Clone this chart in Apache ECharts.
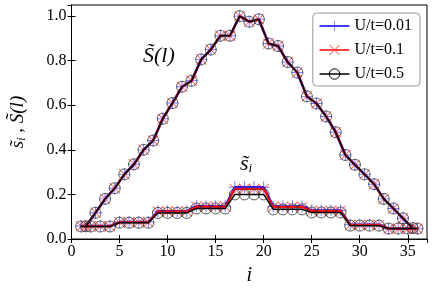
<!DOCTYPE html>
<html>
<head>
<meta charset="utf-8">
<script src="https://cdn.jsdelivr.net/npm/echarts@6/dist/echarts.min.js"></script>
<style>
html,body{margin:0;padding:0;background:#fff;}
#c{width:436px;height:291px;}
</style>
</head>
<body>
<div id="c"></div>
<script>
// site index i (lower curves s_i) and bond position l (upper curves S(l))
const siteIndex = [1,2,3,4,5,6,7,8,9,10,11,12,13,14,15,16,17,18,19,20,21,22,23,24,25,26,27,28,29,30,31,32,33,34,35,36];
const bondIndex = [1.5,2.5,3.5,4.5,5.5,6.5,7.5,8.5,9.5,10.5,11.5,12.5,13.5,14.5,15.5,16.5,17.5,18.5,19.5,20.5,21.5,22.5,23.5,24.5,25.5,26.5,27.5,28.5,29.5,30.5,31.5,32.5,33.5,34.5,35.5];

const seriesNames = ['U/t=0.01', 'U/t=0.1', 'U/t=0.5'];

// s_i values
const sBlue  = [0.058,0.058,0.058,0.058, 0.076,0.076,0.076,0.076, 0.125,0.125,0.125,0.125, 0.147,0.147,0.147,0.147, 0.232,0.232,0.232,0.232, 0.146,0.146,0.146,0.146, 0.128,0.128,0.128,0.128, 0.064,0.064,0.064,0.064, 0.046,0.046,0.046,0.046];
const sRed   = [0.057,0.057,0.057,0.057, 0.075,0.075,0.075,0.075, 0.123,0.123,0.123,0.123, 0.145,0.145,0.145,0.145, 0.224,0.224,0.224,0.224, 0.144,0.144,0.144,0.144, 0.126,0.126,0.126,0.126, 0.063,0.063,0.063,0.063, 0.046,0.046,0.046,0.046];
const sBlack = [0.056,0.056,0.056,0.056, 0.073,0.073,0.073,0.073, 0.117,0.117,0.117,0.117, 0.137,0.137,0.137,0.137, 0.200,0.200,0.200,0.200, 0.133,0.133,0.133,0.133, 0.119,0.119,0.119,0.119, 0.060,0.060,0.060,0.060, 0.047,0.047,0.047,0.047];

// S(l) values
const SBlue  = [0.057,0.118,0.180,0.228,0.290,0.335,0.400,0.442,0.540,0.610,0.683,0.710,0.806,0.850,0.912,0.912,1.000,0.975,0.986,0.877,0.866,0.794,0.747,0.640,0.608,0.550,0.479,0.377,0.333,0.290,0.246,0.180,0.137,0.093,0.049];
const SRed   = [0.057,0.118,0.180,0.228,0.290,0.335,0.400,0.442,0.540,0.610,0.683,0.710,0.806,0.850,0.912,0.912,1.000,0.975,0.986,0.877,0.866,0.794,0.747,0.640,0.608,0.550,0.479,0.377,0.333,0.290,0.246,0.180,0.137,0.093,0.049];
const SBlack = [0.057,0.118,0.180,0.228,0.290,0.335,0.400,0.442,0.540,0.610,0.683,0.710,0.806,0.850,0.912,0.912,1.000,0.975,0.986,0.877,0.866,0.794,0.747,0.640,0.608,0.550,0.479,0.377,0.333,0.290,0.246,0.180,0.137,0.093,0.049];

const xTicks = [0,5,10,15,20,25,30,35];
const yTicks = [0.0,0.2,0.4,0.6,0.8,1.0];

const FONT = 'Liberation Serif';
const PLUS = 'path://M4.6,0 H5.4 V4.6 H10 V5.4 H5.4 V10 H4.6 V5.4 H0 V4.6 H4.6 Z';
const CROSS = 'path://M0,0.6 L0.6,0 L5,4.4 L9.4,0 L10,0.6 L5.6,5 L10,9.4 L9.4,10 L5,5.6 L0.6,10 L0,9.4 L4.4,5 Z';

function pairs(xs, ys){ return xs.map((x,k)=>[x, ys[k]]); }

const styles = [
  {name: seriesNames[0], color:'#0000ff', lw:2.5, symbol: PLUS, size: 12, item:{color:'rgba(60,60,255,0.7)'}},
  {name: seriesNames[1], color:'#ff0000', lw:2, symbol: CROSS, size: 11, item:{color:'rgba(255,40,40,0.7)'}},
  {name: seriesNames[2], color:'#000000', lw:1.5, symbol: 'circle', size: 11, item:{color:'rgba(0,0,0,0)', borderColor:'#333', borderWidth:0.8}}
];
const lowerData = [sBlue, sRed, sBlack];
const upperData = [SBlue, SRed, SBlack];

const series = [];
styles.forEach((st, k) => {
  [pairs(bondIndex, upperData[k]), pairs(siteIndex, lowerData[k])].forEach(d => {
    series.push({
      type:'line', name: st.name, data: d,
      symbol: st.symbol, symbolSize: st.size, showAllSymbol: true,
      lineStyle:{color: st.color, width: st.lw},
      itemStyle: st.item,
      emphasis:{disabled:true},
      z: 2 + k
    });
  });
});

const isTick = (v, arr) => arr.some(t => Math.abs(t - v) < 1e-6);

const chart = echarts.init(document.getElementById('c'), null, {renderer:'canvas'});
chart.setOption({
  animation:false,
  backgroundColor:'#fff',
  grid:{left:65, right:9, top:5, bottom:44, show:true, borderColor:'#000', borderWidth:1, backgroundColor:'transparent'},
  legend:{
    data: [
      {name: seriesNames[0]},
      {name: seriesNames[1]},
      {name: seriesNames[2], itemStyle:{color:'rgba(0,0,0,0)', borderColor:'#000', borderWidth:1}}
    ],
    orient:'vertical', right:16, top:13,
    backgroundColor:'#fff', borderColor:'#999', borderWidth:1, borderRadius:4,
    padding:[5,8,4,6], itemWidth:30, itemHeight:13, itemGap:8,
    lineStyle:{width:1.5},
    textStyle:{fontFamily:FONT, fontSize:16, color:'#000'}
  },
  xAxis:[
    {type:'value', min:0, max:37, interval:5, position:'bottom',
     name:'i', nameLocation:'middle', nameGap:27,
     nameTextStyle:{fontFamily:FONT, fontStyle:'italic', fontSize:20, color:'#000'},
     axisLine:{show:true, lineStyle:{color:'#000', width:1}},
     axisTick:{show:true, inside:true, length:4, lineStyle:{color:'#000'}},
     axisLabel:{fontFamily:FONT, fontSize:16, color:'#000', margin:5, showMaxLabel:false,
       formatter: v => isTick(v, xTicks) ? String(v) : ''},
     splitLine:{show:false}},
    {type:'value', min:0, max:37, interval:5, position:'top',
     axisLine:{show:true, lineStyle:{color:'#000', width:1}},
     axisTick:{show:true, inside:true, length:4, lineStyle:{color:'#000'}},
     axisLabel:{show:false}, splitLine:{show:false}}
  ],
  yAxis:[
    {type:'value', min:0, max:1.05, interval:0.2, position:'left',
     name:'{s|s̃}{sub|i}{n| , }{s|S̃(l)}', nameLocation:'middle', nameGap:44, nameRotate:90,
     nameTextStyle:{fontFamily:FONT, color:'#000', rich:{
       s:{fontFamily:FONT, fontStyle:'italic', fontSize:19, color:'#000'},
       sub:{fontFamily:FONT, fontStyle:'italic', fontSize:12, color:'#000', padding:[8,0,0,0]},
       n:{fontFamily:FONT, fontSize:19, color:'#000'}
     }},
     axisLine:{show:true, lineStyle:{color:'#000', width:1}},
     axisTick:{show:true, inside:true, length:4, lineStyle:{color:'#000'}},
     axisLabel:{fontFamily:FONT, fontSize:16, color:'#000', margin:5, showMaxLabel:false,
       formatter: v => isTick(v, yTicks) ? v.toFixed(1) : ''},
     splitLine:{show:false}},
    {type:'value', min:0, max:1.05, interval:0.2, position:'right',
     axisLine:{show:true, lineStyle:{color:'#000', width:1}},
     axisTick:{show:true, inside:true, length:4, lineStyle:{color:'#000'}},
     axisLabel:{show:false}, splitLine:{show:false}}
  ],
  graphic:[
    {type:'text', left:143, top:45, z:10, style:{
      text:'{s|S̃(l)}', rich:{s:{fontFamily:FONT, fontStyle:'italic', fontSize:22, fill:'#000'}}}},
    {type:'text', left:240, top:153, z:10, style:{
      text:'{s|s̃}{sub|i}', rich:{
        s:{fontFamily:FONT, fontStyle:'italic', fontSize:22, fill:'#000'},
        sub:{fontFamily:FONT, fontStyle:'italic', fontSize:13, fill:'#000', padding:[9,0,0,0]}}}}
  ],
  series: series
});
</script>
</body>
</html>
